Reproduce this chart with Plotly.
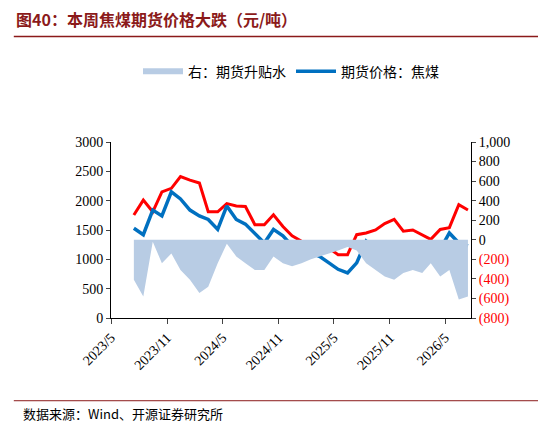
import plotly.graph_objects as go

months = ["2023-07","2023-08","2023-09","2023-10","2023-11","2023-12",
          "2024-01","2024-02","2024-03","2024-04","2024-05","2024-06",
          "2024-07","2024-08","2024-09","2024-10","2024-11","2024-12",
          "2025-01","2025-02","2025-03","2025-04","2025-05","2025-06",
          "2025-07","2025-08","2025-09","2025-10","2025-11","2025-12",
          "2026-01","2026-02","2026-03","2026-04","2026-05","2026-06","2026-07"]
futures = [1530,1420,1840,1740,2150,2030,1840,1740,1680,1510,1910,1680,
           1600,1450,1280,1510,1400,1230,1170,1110,1050,940,830,770,
           940,1310,1170,1230,1250,1080,1200,1140,1250,1170,1450,1280,1230]
spot = [1756,2010,1810,2150,2210,2410,2350,2300,1810,1810,1950,1910,
        1900,1590,1590,1760,1560,1400,1310,1190,1220,1190,1080,1080,
        1420,1450,1500,1610,1680,1480,1500,1420,1340,1510,1540,1930,1840]
basis = [-408,-580,-20,-240,-140,-310,-410,-545,-480,-240,-40,-170,
         -240,-310,-310,-170,-240,-270,-240,-200,-170,-140,-110,-75,
         -110,-240,-310,-375,-410,-340,-310,-340,-240,-375,-310,-610,-580]
dates = [m + "-15" for m in months]

r_vals = [1000,800,600,400,200,0,-200,-400,-600,-800]
r_text = ["1,000","800","600","400","200","0"] + [f"<span style='color:red'>({abs(v)})</span>" for v in r_vals[6:]]
x_ticks = ["2023-05-01","2023-11-01","2024-05-01","2024-11-01","2025-05-01","2025-11-01","2026-05-01"]
x_text = ["2023/5","2023/11","2024/5","2024/11","2025/5","2025/11","2026/5"]

fig = go.Figure()
fig.add_trace(go.Scatter(x=dates, y=basis, yaxis="y2", fill="tozeroy", mode="none",
                         fillcolor="rgba(184,204,228,1)", name="右：期货升贴水"))
fig.add_trace(go.Scatter(x=dates, y=spot, mode="lines", line=dict(color="#FF0000", width=3, shape="linear"),
                         showlegend=False))
fig.add_trace(go.Scatter(x=dates, y=futures, mode="lines", line=dict(color="#0070C0", width=3.5),
                         name="期货价格：焦煤"))

font = "Noto Sans CJK SC"
fig.update_layout(
    width=546, height=436, margin=dict(l=103, r=83, t=134, b=126),
    paper_bgcolor="white", plot_bgcolor="white",
    font=dict(family="Liberation Serif", size=14, color="black"),
    legend=dict(orientation="h", x=0.5, xanchor="center", y=1.40, yanchor="middle",
                font=dict(family=font, size=14), itemwidth=40),
    xaxis=dict(range=["2023-05-01","2026-07-25"], tickvals=x_ticks, ticktext=x_text, tickangle=-45,
               showgrid=False, showline=True, linecolor="black", ticks="outside", ticklen=5),
    yaxis=dict(range=[0,3000], dtick=500, showgrid=False, showline=True, linecolor="black",
               ticks="outside", ticklen=4),
    yaxis2=dict(range=[-800,1000], overlaying="y", side="right", tickvals=r_vals, ticktext=r_text,
                showgrid=False, showline=True, linecolor="black", ticks="outside", ticklen=4),
    shapes=[dict(type="line", xref="paper", yref="paper", x0=-0.27, x1=1.22, y0=1.60, y1=1.60,
                 line=dict(color="#8B1A1A", width=1.5)),
            dict(type="line", xref="paper", yref="paper", x0=-0.27, x1=1.22, y0=-0.47, y1=-0.47,
                 line=dict(color="#8B1A1A", width=1))],
    annotations=[dict(text="<b>图40：本周焦煤期货价格大跌（元/吨）</b>", xref="paper", yref="paper",
                      x=-0.27, y=1.70, xanchor="left", yanchor="middle", showarrow=False,
                      font=dict(family=font, size=16, color="#8B1A1A")),
                 dict(text="数据来源：Wind、开源证券研究所", xref="paper", yref="paper",
                      x=-0.25, y=-0.54, xanchor="left", yanchor="middle", showarrow=False,
                      font=dict(family=font, size=13, color="black"))],
)
fig.write_html("out.html")
